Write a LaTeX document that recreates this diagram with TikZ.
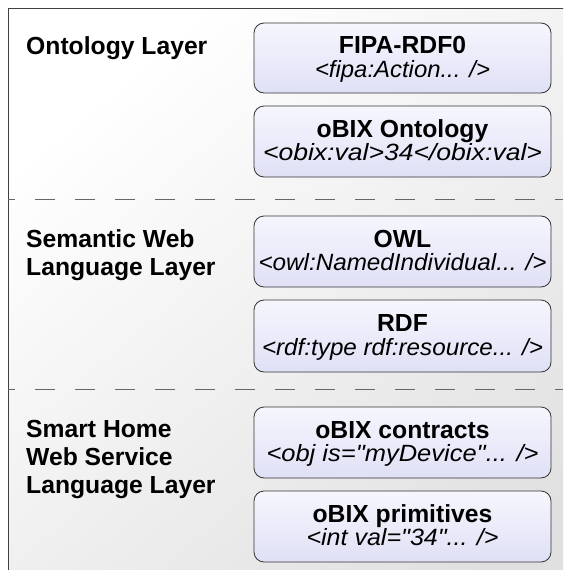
\documentclass[tikz,border=0pt]{standalone}
\usepackage{fontspec}
\setmainfont{Liberation Sans}
\usetikzlibrary{calc}
\definecolor{boxtop}{HTML}{F6F6FE}
\definecolor{boxbot}{HTML}{E0E0F6}
\definecolor{bgdark}{HTML}{E0E0E0}
\newlength\tmpwidth
\newcommand\fitw[2]{\settowidth\tmpwidth{#2}\pgfmathsetmacro\sfac{#1/\tmpwidth}\scalebox{\sfac}[1]{#2}}
\tikzset{
  lbox/.style={draw=black!80, line width=0.8pt, rounded corners=10pt,
    minimum width=297pt, inner sep=0pt, top color=boxtop, bottom color=boxbot},
  ttl/.style={font=\fontsize{24.7}{28}\selectfont\bfseries, anchor=base, inner sep=0pt},
  cod/.style={font=\fontsize{23.5}{28}\selectfont\itshape, anchor=base, inner sep=0pt},
  lbl/.style={font=\fontsize{24.7}{28}\selectfont\bfseries, anchor=base west, inner sep=0pt},
  sep/.style={draw=black!60, line width=0.9pt, dash pattern=on 20pt off 20pt, dash phase=13pt},
  frame/.style={draw=black!75, line width=0.9pt}
}
\newcommand\layerbox[6]{%
  \node[lbox, minimum height={#3-#2}] (#1) at (402.5,{(#2+#3)/2}) {};
  \node[ttl] (#1t) at ($(#1.center)+(0,-4.5)$) {#4};
  \node[cod] (#1c) at ($(#1.center)+(0,19)$) {\fitw{#6}{#5}};
}
\begin{document}
\begin{tikzpicture}[x=1pt,y=-1pt]
\useasboundingbox (0,0) rectangle (563,570);
\clip (0,0) rectangle (563,570);
\shade[top color=white, bottom color=bgdark, shading angle=40] (8,8) rectangle (620,620);
\draw[frame] (620,8) -- (8,8) -- (8,620);
\coordinate (s1a) at (8,199);
\coordinate (s1b) at (563,199);
\coordinate (s2a) at (8,389);
\coordinate (s2b) at (563,389);
\draw[sep] (s1a) -- (s1b);
\draw[sep] (s2a) -- (s2b);
\node[lbl] (l1) at (26,54) {Ontology Layer};
\node[lbl] (l2a) at (26,247) {Semantic Web};
\node[lbl] (l2b) at (26,275) {Language Layer};
\node[lbl] (l3a) at (26,437) {Smart Home};
\node[lbl] (l3b) at (26,465) {Web Service};
\node[lbl] (l3c) at (26,493) {Language Layer};
\layerbox{b1}{23}{93}{FIPA-RDF0}{<fipa:Action... />}{175}
\layerbox{b2}{106}{177}{oBIX Ontology}{<obix:val>34</obix:val>}{279}
\layerbox{b3}{216}{287}{OWL}{<owl:NamedIndividual... />}{288}
\layerbox{b4}{300}{372}{RDF}{<rdf:type rdf:resource... />}{281}
\layerbox{b5}{407}{478}{oBIX contracts}{<obj is=\textquotedbl myDevice\textquotedbl... />}{272}
\layerbox{b6}{491}{562}{oBIX primitives}{<int val=\textquotedbl 34\textquotedbl... />}{192}
\end{tikzpicture}
\end{document}
